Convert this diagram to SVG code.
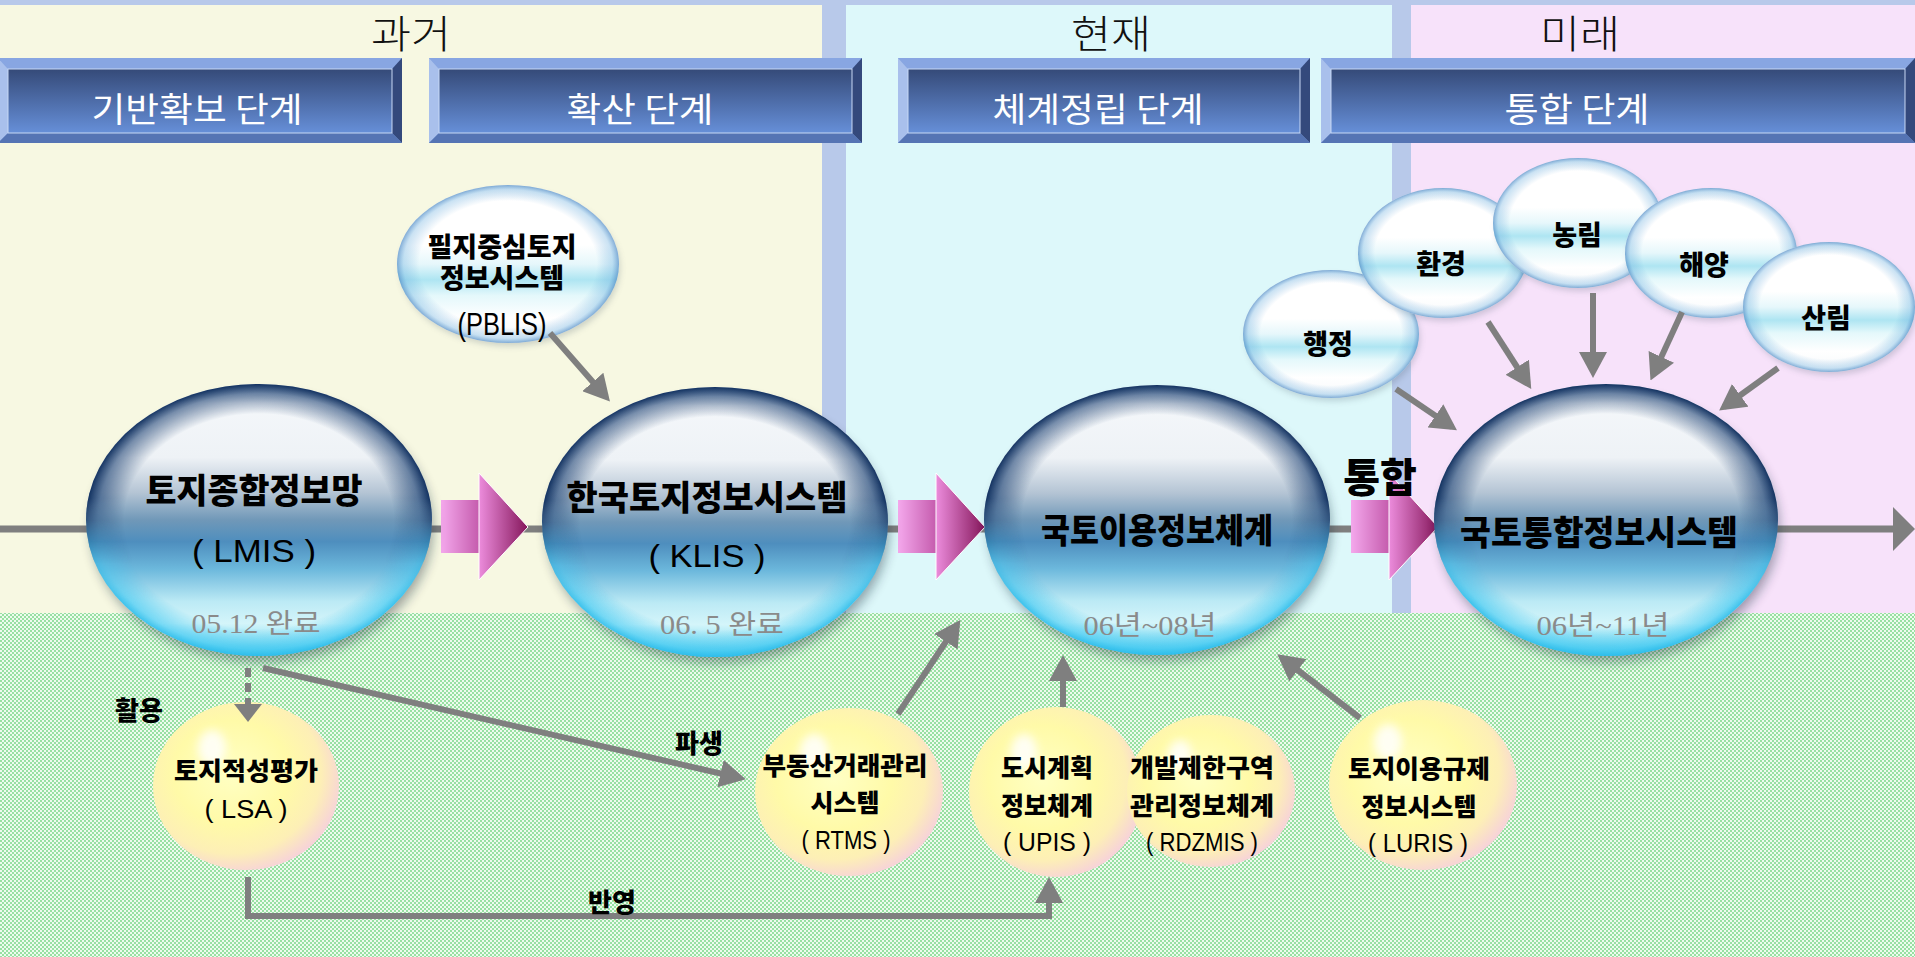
<svg xmlns="http://www.w3.org/2000/svg" width="1915" height="957" viewBox="0 0 1915 957">
<defs>
<style>
.t-era{font-family:"Noto Sans CJK KR","Noto Sans",sans-serif;font-size:39px;font-weight:300;fill:#111;text-anchor:middle}
.t-hdr{font-family:"Noto Sans CJK KR","Noto Sans",sans-serif;font-size:34px;fill:#fff;text-anchor:middle}
.t-main{font-family:"Noto Sans CJK KR","Noto Sans",sans-serif;font-weight:900;font-size:34px;fill:#000;text-anchor:middle}
.t-abbr{font-family:"Liberation Sans",sans-serif;font-size:31px;fill:#000;text-anchor:middle}
.t-date{font-family:"Liberation Serif","Noto Sans CJK KR",serif;font-size:27px;fill:#8a8a8a;text-anchor:middle}
.t-sm{font-family:"Noto Sans CJK KR","Noto Sans",sans-serif;font-weight:900;font-size:25px;fill:#000;text-anchor:middle}
.t-sabbr{font-family:"Liberation Sans",sans-serif;font-size:26px;fill:#000;text-anchor:middle}
.t-pb{font-family:"Noto Sans CJK KR","Noto Sans",sans-serif;font-weight:900;font-size:27px;fill:#000;text-anchor:middle}
.t-lbl{font-family:"Noto Sans CJK KR","Noto Sans",sans-serif;font-weight:900;font-size:26px;fill:#000;text-anchor:middle}
.t-big{font-family:"Noto Sans CJK KR","Noto Sans",sans-serif;font-weight:900;font-size:40px;fill:#000;text-anchor:middle}
.bb-sh{fill:#102030;opacity:.4}
.bb-base{fill:url(#bbBase)}
.bb-rim{fill:url(#bbRim)}
.bb-rim2{fill:url(#bbRim2)}
.wb-sh{fill:#506070;opacity:.25}
.wb-base{fill:url(#wbBase)}
.wb-rim{fill:url(#wbRim)}
.yb-base{fill:url(#ybBase)}
.yb-hl{fill:#fff;opacity:.85}
.conn{stroke:#7f7f7f;stroke-width:6;fill:none}
.bev-top{fill:#88a6e2}
.bev-left{fill:#a9c0ec}
.bev-right{fill:#34497c}
.bev-bot{fill:#5574b4}
.bev-face{fill:url(#faceG);stroke:#c8d8f4;stroke-width:1}
</style>
<pattern id="chk" width="4" height="4" patternUnits="userSpaceOnUse">
<rect width="4" height="4" fill="#eefbee"/>
<rect width="2" height="2" fill="#98e0a2"/>
<rect x="2" y="2" width="2" height="2" fill="#98e0a2"/>
</pattern>
<linearGradient id="faceG" x1="0" y1="0" x2="0" y2="1">
<stop offset="0" stop-color="#354a78"/>
<stop offset="1" stop-color="#668fd8"/>
</linearGradient>
<linearGradient id="bbBase" x1="0" y1="0" x2="0" y2="1">
<stop offset="0" stop-color="#b8c6d6"/>
<stop offset="0.07" stop-color="#f4f7fa"/>
<stop offset="0.27" stop-color="#eef2f6"/>
<stop offset="0.40" stop-color="#b4c4d4"/>
<stop offset="0.50" stop-color="#7098b8"/>
<stop offset="0.58" stop-color="#4e8ebe"/>
<stop offset="0.68" stop-color="#6cb8dc"/>
<stop offset="0.80" stop-color="#bceaf5"/>
<stop offset="0.88" stop-color="#d4f5fa"/>
<stop offset="0.95" stop-color="#8ee0f4"/>
<stop offset="1" stop-color="#44c6ec"/>
</linearGradient>
<radialGradient id="bbRim" cx="0.5" cy="0.5" r="0.5">
<stop offset="0" stop-color="#0a2e60" stop-opacity="0"/>
<stop offset="0.78" stop-color="#0a2e60" stop-opacity="0"/>
<stop offset="0.93" stop-color="#12386c" stop-opacity="0.55"/>
<stop offset="1" stop-color="#0a2a5a" stop-opacity="0.95"/>
</radialGradient>
<radialGradient id="bbRim2" cx="0.5" cy="0.5" r="0.5">
<stop offset="0" stop-color="#38c4f0" stop-opacity="0"/>
<stop offset="0.8" stop-color="#38c4f0" stop-opacity="0"/>
<stop offset="0.95" stop-color="#3cc8f2" stop-opacity="0.6"/>
<stop offset="1" stop-color="#2cbcea" stop-opacity="0.9"/>
</radialGradient>
<linearGradient id="gTop" x1="0" y1="0" x2="0" y2="1">
<stop offset="0" stop-color="#fff"/>
<stop offset="0.42" stop-color="#fff"/>
<stop offset="0.66" stop-color="#000"/>
</linearGradient>
<linearGradient id="gBot" x1="0" y1="0" x2="0" y2="1">
<stop offset="0.5" stop-color="#000"/>
<stop offset="0.8" stop-color="#fff"/>
</linearGradient>
<mask id="mTop" maskContentUnits="objectBoundingBox"><rect width="1" height="1" fill="url(#gTop)"/></mask>
<mask id="mBot" maskContentUnits="objectBoundingBox"><rect width="1" height="1" fill="url(#gBot)"/></mask>
<linearGradient id="wbBase" x1="0" y1="0" x2="0" y2="1">
<stop offset="0" stop-color="#eef4f8"/>
<stop offset="0.1" stop-color="#ffffff"/>
<stop offset="0.38" stop-color="#ffffff"/>
<stop offset="0.5" stop-color="#e6f7fb"/>
<stop offset="0.6" stop-color="#aee5f2"/>
<stop offset="0.7" stop-color="#e4f8fb"/>
<stop offset="0.84" stop-color="#ffffff"/>
<stop offset="1" stop-color="#f6f9fb"/>
</linearGradient>
<radialGradient id="wbRim" cx="0.5" cy="0.5" r="0.5">
<stop offset="0" stop-color="#5a9ed4" stop-opacity="0"/>
<stop offset="0.8" stop-color="#5a9ed4" stop-opacity="0"/>
<stop offset="0.94" stop-color="#6aaede" stop-opacity="0.35"/>
<stop offset="1" stop-color="#4c88c4" stop-opacity="0.7"/>
</radialGradient>
<radialGradient id="ybBase" cx="0.42" cy="0.42" r="0.62">
<stop offset="0" stop-color="#ffffc4"/>
<stop offset="0.5" stop-color="#fffaa8"/>
<stop offset="0.78" stop-color="#fdefb6"/>
<stop offset="1" stop-color="#f6d0dc"/>
</radialGradient>
<linearGradient id="pkBody" x1="0" y1="0" x2="1" y2="0">
<stop offset="0" stop-color="#f4a8ec"/>
<stop offset="1" stop-color="#c45aac"/>
</linearGradient>
<linearGradient id="pkHead" x1="0" y1="0" x2="1" y2="0">
<stop offset="0" stop-color="#ec8cdc"/>
<stop offset="1" stop-color="#84165a"/>
</linearGradient>
<filter id="blur6" x="-20%" y="-20%" width="140%" height="140%"><feGaussianBlur stdDeviation="6"/></filter>
<filter id="blur3" x="-20%" y="-20%" width="140%" height="140%"><feGaussianBlur stdDeviation="3"/></filter>
<filter id="blur5" x="-50%" y="-50%" width="200%" height="200%"><feGaussianBlur stdDeviation="5"/></filter>
<marker id="ah" markerUnits="userSpaceOnUse" markerWidth="26" markerHeight="28" viewBox="0 0 26 28" refX="20" refY="14" orient="auto">
<path d="M0,0 L26,14 L0,28 Z" fill="#7f7f7f"/>
</marker>
<marker id="ahS" markerUnits="userSpaceOnUse" markerWidth="18" markerHeight="28" viewBox="0 0 18 28" refX="12" refY="14" orient="auto">
<path d="M0,0 L18,14 L0,28 Z" fill="#7f7f7f"/>
</marker>
<g id="pinkArrow">
<rect x="0" y="27" width="39" height="53" fill="url(#pkBody)"/>
<path d="M38,0 L87,54 L38,107 Z" fill="url(#pkHead)" stroke="#ffffff" stroke-width="1"/>
</g>
</defs>

<!-- background -->
<g id="background">
<rect x="0" y="0" width="1915" height="957" fill="#b8c9ea"/>
<rect x="0" y="5" width="822" height="608" fill="#f7f8e2"/>
<rect x="846" y="5" width="546" height="608" fill="#ddf8fa"/>
<rect x="1411" y="5" width="504" height="608" fill="#f7e2fa"/>
<rect x="0" y="613" width="1915" height="344" fill="url(#chk)"/>
</g>

<g id="eras">
<text class="t-era" x="411" y="48" textLength="80" lengthAdjust="spacingAndGlyphs">과거</text>
<text class="t-era" x="1111" y="48" textLength="80" lengthAdjust="spacingAndGlyphs">현재</text>
<text class="t-era" x="1580" y="48" textLength="80" lengthAdjust="spacingAndGlyphs">미래</text>
</g>

<!-- header bevel boxes -->
<g id="hdr1">
<rect x="-2" y="58" width="404" height="85" fill="#7e9cd8"/>
<polygon class="bev-top" points="-2,58 402,58 392,69 8,69"/>
<polygon class="bev-left" points="-2,58 8,69 8,133 -2,143"/>
<polygon class="bev-right" points="402,58 402,143 392,133 392,69"/>
<polygon class="bev-bot" points="-2,143 8,133 392,133 402,143"/>
<rect class="bev-face" x="8" y="69" width="384" height="64"/>
<text class="t-hdr" x="197" y="122" textLength="211" lengthAdjust="spacingAndGlyphs">기반확보 단계</text>
</g>
<g id="hdr2">
<rect x="429" y="58" width="433" height="85" fill="#7e9cd8"/>
<polygon class="bev-top" points="429,58 862,58 852,69 439,69"/>
<polygon class="bev-left" points="429,58 439,69 439,133 429,143"/>
<polygon class="bev-right" points="862,58 862,143 852,133 852,69"/>
<polygon class="bev-bot" points="429,143 439,133 852,133 862,143"/>
<rect class="bev-face" x="439" y="69" width="413" height="64"/>
<text class="t-hdr" x="640" y="122" textLength="147" lengthAdjust="spacingAndGlyphs">확산 단계</text>
</g>
<g id="hdr3">
<rect x="898" y="58" width="412" height="85" fill="#7e9cd8"/>
<polygon class="bev-top" points="898,58 1310,58 1300,69 908,69"/>
<polygon class="bev-left" points="898,58 908,69 908,133 898,143"/>
<polygon class="bev-right" points="1310,58 1310,143 1300,133 1300,69"/>
<polygon class="bev-bot" points="898,143 908,133 1300,133 1310,143"/>
<rect class="bev-face" x="908" y="69" width="392" height="64"/>
<text class="t-hdr" x="1098" y="122" textLength="211" lengthAdjust="spacingAndGlyphs">체계정립 단계</text>
</g>
<g id="hdr4">
<rect x="1321" y="58" width="594" height="85" fill="#7e9cd8"/>
<polygon class="bev-top" points="1321,58 1915,58 1905,69 1331,69"/>
<polygon class="bev-left" points="1321,58 1331,69 1331,133 1321,143"/>
<polygon class="bev-right" points="1915,58 1915,143 1905,133 1905,69"/>
<polygon class="bev-bot" points="1321,143 1331,133 1905,133 1915,143"/>
<rect class="bev-face" x="1331" y="69" width="574" height="64"/>
<text class="t-hdr" x="1577" y="122" textLength="145" lengthAdjust="spacingAndGlyphs">통합 단계</text>
</g>

<!-- main timeline line and block arrows -->
<g id="timeline">
<line x1="0" y1="529" x2="1896" y2="529" stroke="#7f7f7f" stroke-width="7"/>
<polygon points="1893,507 1915,529 1893,551" fill="#7f7f7f"/>
<use href="#pinkArrow" transform="translate(441,473)"/>
<use href="#pinkArrow" transform="translate(898,473)"/>
<use href="#pinkArrow" transform="translate(1351,473)"/>
<text class="t-big" x="1380" y="492">통합</text>
</g>

<!-- main blue nodes -->
<g id="node-lmis">
<ellipse class="bb-sh" cx="262" cy="528" rx="171" ry="134" filter="url(#blur6)"/>
<ellipse class="bb-base" cx="259" cy="520" rx="173" ry="136"/>
<ellipse class="bb-rim" cx="259" cy="520" rx="173" ry="136" mask="url(#mTop)"/>
<ellipse class="bb-rim2" cx="259" cy="520" rx="173" ry="136" mask="url(#mBot)"/>
<text class="t-main" x="254" y="503" textLength="217" lengthAdjust="spacingAndGlyphs">토지종합정보망</text>
<text class="t-abbr" x="254" y="562" textLength="124" lengthAdjust="spacingAndGlyphs">( LMIS )</text>
<text class="t-date" x="256" y="633" textLength="129" lengthAdjust="spacingAndGlyphs">05.12 완료</text>
</g>
<g id="node-klis">
<ellipse class="bb-sh" cx="718" cy="530" rx="171" ry="133" filter="url(#blur6)"/>
<ellipse class="bb-base" cx="715" cy="522" rx="173" ry="135"/>
<ellipse class="bb-rim" cx="715" cy="522" rx="173" ry="135" mask="url(#mTop)"/>
<ellipse class="bb-rim2" cx="715" cy="522" rx="173" ry="135" mask="url(#mBot)"/>
<text class="t-main" x="707" y="510" textLength="281" lengthAdjust="spacingAndGlyphs">한국토지정보시스템</text>
<text class="t-abbr" x="707" y="567" textLength="117" lengthAdjust="spacingAndGlyphs">( KLIS )</text>
<text class="t-date" x="722" y="634" textLength="124" lengthAdjust="spacingAndGlyphs">06. 5 완료</text>
</g>
<g id="node-nlis">
<ellipse class="bb-sh" cx="1160" cy="528" rx="171" ry="133" filter="url(#blur6)"/>
<ellipse class="bb-base" cx="1157" cy="520" rx="173" ry="135"/>
<ellipse class="bb-rim" cx="1157" cy="520" rx="173" ry="135" mask="url(#mTop)"/>
<ellipse class="bb-rim2" cx="1157" cy="520" rx="173" ry="135" mask="url(#mBot)"/>
<text class="t-main" x="1157" y="543" textLength="232" lengthAdjust="spacingAndGlyphs">국토이용정보체계</text>
<text class="t-date" x="1150" y="635" textLength="133" lengthAdjust="spacingAndGlyphs">06년~08년</text>
</g>
<g id="node-kois">
<ellipse class="bb-sh" cx="1609" cy="528" rx="170" ry="134" filter="url(#blur6)"/>
<ellipse class="bb-base" cx="1606" cy="520" rx="172" ry="136"/>
<ellipse class="bb-rim" cx="1606" cy="520" rx="172" ry="136" mask="url(#mTop)"/>
<ellipse class="bb-rim2" cx="1606" cy="520" rx="172" ry="136" mask="url(#mBot)"/>
<text class="t-main" x="1599" y="545" textLength="278" lengthAdjust="spacingAndGlyphs">국토통합정보시스템</text>
<text class="t-date" x="1603" y="635" textLength="133" lengthAdjust="spacingAndGlyphs">06년~11년</text>
</g>

<!-- white bubbles -->
<g id="node-pblis">
<ellipse class="wb-sh" cx="510" cy="268" rx="110" ry="78" filter="url(#blur3)"/>
<ellipse class="wb-base" cx="508" cy="264" rx="111" ry="79"/>
<ellipse class="wb-rim" cx="508" cy="264" rx="111" ry="79"/>
<text class="t-pb" font-size="26"><tspan x="502" y="257">필지중심토지</tspan><tspan x="502" y="288">정보시스템</tspan></text>
<text class="t-abbr" x="502" y="335" font-size="29" textLength="89" lengthAdjust="spacingAndGlyphs">(PBLIS)</text>
</g>
<g id="node-admin">
<ellipse class="wb-sh" cx="1333" cy="338" rx="87" ry="63" filter="url(#blur3)"/>
<ellipse class="wb-base" cx="1331" cy="334" rx="88" ry="64"/>
<ellipse class="wb-rim" cx="1331" cy="334" rx="88" ry="64"/>
<text class="t-pb" x="1328" y="354" font-size="31">행정</text>
</g>
<g id="node-env">
<ellipse class="wb-sh" cx="1445" cy="257" rx="84" ry="64" filter="url(#blur3)"/>
<ellipse class="wb-base" cx="1443" cy="253" rx="85" ry="65"/>
<ellipse class="wb-rim" cx="1443" cy="253" rx="85" ry="65"/>
<text class="t-pb" x="1441" y="274" font-size="31">환경</text>
</g>
<g id="node-agri">
<ellipse class="wb-sh" cx="1580" cy="227" rx="84" ry="64" filter="url(#blur3)"/>
<ellipse class="wb-base" cx="1578" cy="223" rx="85" ry="65"/>
<ellipse class="wb-rim" cx="1578" cy="223" rx="85" ry="65"/>
<text class="t-pb" x="1577" y="245" font-size="31">농림</text>
</g>
<g id="node-sea">
<ellipse class="wb-sh" cx="1713" cy="257" rx="85" ry="64" filter="url(#blur3)"/>
<ellipse class="wb-base" cx="1711" cy="253" rx="86" ry="65"/>
<ellipse class="wb-rim" cx="1711" cy="253" rx="86" ry="65"/>
<text class="t-pb" x="1704" y="275" font-size="31">해양</text>
</g>
<g id="node-forest">
<ellipse class="wb-sh" cx="1831" cy="311" rx="85" ry="64" filter="url(#blur3)"/>
<ellipse class="wb-base" cx="1829" cy="307" rx="86" ry="65"/>
<ellipse class="wb-rim" cx="1829" cy="307" rx="86" ry="65"/>
<text class="t-pb" x="1826" y="328" font-size="31">산림</text>
</g>

<!-- yellow bubbles -->
<g id="node-lsa">
<ellipse class="yb-base" cx="246" cy="786" rx="93" ry="84"/>
<ellipse class="yb-hl" cx="212" cy="748" rx="14" ry="18" filter="url(#blur5)"/>
<text class="t-sm" x="246" y="780" textLength="144" lengthAdjust="spacingAndGlyphs">토지적성평가</text>
<text class="t-sabbr" x="246" y="818" textLength="83" lengthAdjust="spacingAndGlyphs">( LSA )</text>
</g>
<g id="node-rtms">
<ellipse class="yb-base" cx="849" cy="792" rx="94" ry="84"/>
<ellipse class="yb-hl" cx="814" cy="752" rx="14" ry="18" filter="url(#blur5)"/>
<text class="t-sm" x="845" y="775" textLength="165" lengthAdjust="spacingAndGlyphs">부동산거래관리</text>
<text class="t-sm" x="845" y="812">시스템</text>
<text class="t-sabbr" x="846" y="849" textLength="89" lengthAdjust="spacingAndGlyphs">( RTMS )</text>
</g>
<g id="node-upis">
<ellipse class="yb-base" cx="1056" cy="792" rx="87" ry="85"/>
<ellipse class="yb-hl" cx="1024" cy="752" rx="13" ry="18" filter="url(#blur5)"/>
<text class="t-sm" x="1047" y="777">도시계획</text>
<text class="t-sm" x="1047" y="815">정보체계</text>
<text class="t-sabbr" x="1047" y="851" textLength="88" lengthAdjust="spacingAndGlyphs">( UPIS )</text>
</g>
<g id="node-rdzmis">
<ellipse class="yb-base" cx="1211" cy="791" rx="84" ry="76"/>
<ellipse class="yb-hl" cx="1180" cy="756" rx="12" ry="16" filter="url(#blur5)"/>
<text class="t-sm" x="1202" y="777" textLength="144" lengthAdjust="spacingAndGlyphs">개발제한구역</text>
<text class="t-sm" x="1202" y="815" textLength="144" lengthAdjust="spacingAndGlyphs">관리정보체계</text>
<text class="t-sabbr" x="1202" y="851" textLength="112" lengthAdjust="spacingAndGlyphs">( RDZMIS )</text>
</g>
<g id="node-luris">
<ellipse class="yb-base" cx="1423" cy="785" rx="94" ry="85"/>
<ellipse class="yb-hl" cx="1388" cy="742" rx="14" ry="18" filter="url(#blur5)"/>
<text class="t-sm" x="1419" y="778" textLength="142" lengthAdjust="spacingAndGlyphs">토지이용규제</text>
<text class="t-sm" x="1419" y="816">정보시스템</text>
<text class="t-sabbr" x="1418" y="852" textLength="100" lengthAdjust="spacingAndGlyphs">( LURIS )</text>
</g>

<!-- connectors -->
<g id="connectors">
<line class="conn" x1="550" y1="333" x2="606" y2="397" marker-end="url(#ah)"/>
<line class="conn" x1="1396" y1="389" x2="1452" y2="427" marker-end="url(#ah)"/>
<line class="conn" x1="1488" y1="322" x2="1528" y2="384" marker-end="url(#ah)"/>
<line class="conn" x1="1593" y1="293" x2="1593" y2="372" marker-end="url(#ah)"/>
<line class="conn" x1="1682" y1="312" x2="1653" y2="375" marker-end="url(#ah)"/>
<line class="conn" x1="1778" y1="368" x2="1724" y2="407" marker-end="url(#ah)"/>
<line class="conn" x1="248" y1="668" x2="248" y2="716" stroke-dasharray="9 6" marker-end="url(#ahS)"/>
<line class="conn" x1="263" y1="668" x2="740" y2="778" stroke-width="7" marker-end="url(#ah)"/>
<line class="conn" x1="898" y1="714" x2="957" y2="625" marker-end="url(#ah)"/>
<line class="conn" x1="1063" y1="707" x2="1063" y2="661" marker-end="url(#ah)"/>
<line class="conn" x1="1360" y1="718" x2="1282" y2="658" marker-end="url(#ah)"/>
<path class="conn" d="M248,877 V916 H1049 V883" marker-end="url(#ah)"/>
<text class="t-lbl" x="139" y="720">활용</text>
<text class="t-lbl" x="699" y="753">파생</text>
<text class="t-lbl" x="612" y="912">반영</text>
</g>
</svg>
